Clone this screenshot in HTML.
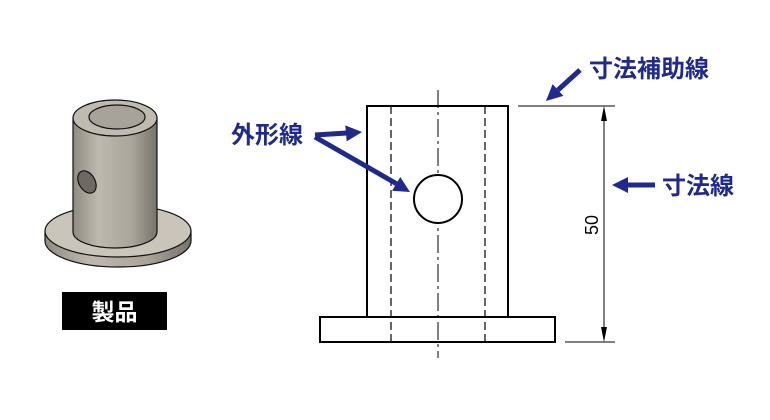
<!DOCTYPE html>
<html><head><meta charset="utf-8"><style>
body{margin:0;background:#fff;}
svg{display:block;}
text{font-family:"Liberation Sans","Noto Sans CJK JP",sans-serif;}
</style></head><body>
<svg width="770" height="420" viewBox="0 0 770 420" xmlns="http://www.w3.org/2000/svg">
<defs>
<linearGradient id="g1" x1="0" x2="1"><stop offset="0" stop-color="#8f8b82"/><stop offset="0.3" stop-color="#bdb9ae"/><stop offset="0.7" stop-color="#a9a59b"/><stop offset="1" stop-color="#77736b"/></linearGradient>
</defs>
<!-- product -->
<path d="M45,231 v10 a73,26 0 0 0 146,0 v-10 z" fill="url(#g1)" stroke="#111" stroke-width="1.2"/>
<ellipse cx="118" cy="231" rx="73" ry="26" fill="#c9c5ba" stroke="#111" stroke-width="1.2"/>
<path d="M73,118 V232 a42,16 0 0 0 84,0 V118 z" fill="url(#g1)" stroke="#111" stroke-width="1.2"/>
<ellipse cx="115" cy="118" rx="42" ry="18" fill="#bfbbb0" stroke="#111" stroke-width="1.2"/>
<ellipse cx="117" cy="117" rx="28" ry="12" fill="#a7a39a" stroke="#111" stroke-width="1.2"/>
<ellipse cx="87" cy="182" rx="8" ry="12" transform="rotate(-30 87 182)" fill="#6e6a63" stroke="#111" stroke-width="1.2"/>
<rect x="62" y="292" width="105" height="38" fill="#000"/>
<text x="114.5" y="320" text-anchor="middle" font-size="23" font-weight="bold" fill="#fff">製品</text>
<!-- drawing -->
<g stroke="#000" fill="none">
<rect x="367" y="106" width="141" height="211" stroke-width="2"/>
<rect x="320" y="317" width="235" height="25" stroke-width="2"/>
<line x1="391" y1="106" x2="391" y2="342" stroke-width="1.2" stroke-dasharray="8,4"/>
<line x1="485" y1="106" x2="485" y2="342" stroke-width="1.2" stroke-dasharray="8,4"/>
<line x1="438" y1="90" x2="438" y2="358" stroke-width="1" stroke-dasharray="18,4,3,4"/>
<circle cx="438" cy="199" r="24" stroke-width="2" fill="#fff"/>
<line x1="518" y1="106" x2="615" y2="106" stroke-width="1"/>
<line x1="565" y1="342" x2="615" y2="342" stroke-width="1"/>
<line x1="604" y1="108" x2="604" y2="340" stroke-width="1"/>
</g>
<path d="M604,106 L601,121 L607,121 z M604,342 L601,327 L607,327 z" fill="#000"/>
<text transform="translate(598,225) rotate(-90)" text-anchor="middle" font-size="18" fill="#000">50</text>
<!-- annotations -->
<g stroke="#1f2a8c" stroke-width="5" fill="none">
<line x1="580" y1="70" x2="558" y2="90"/>
<line x1="655" y1="185" x2="627" y2="185"/>
<line x1="315" y1="135" x2="347" y2="133"/>
<line x1="315" y1="137" x2="397" y2="184"/>
</g>
<g fill="#1f2a8c">
<polygon points="546,101 563.4,95.9 552.6,84.1"/>
<polygon points="612,185 628,177 628,193"/>
<polygon points="362,132 346.7,141.4 345.3,125.4"/>
<polygon points="410,192 392.1,190.8 400.3,177"/>
</g>
<g fill="#1f2a8c" font-weight="bold" font-size="24">
<text x="589" y="77">寸法補助線</text>
<text x="662" y="194">寸法線</text>
<text x="231" y="143">外形線</text>
</g>
</svg>
</body></html>
